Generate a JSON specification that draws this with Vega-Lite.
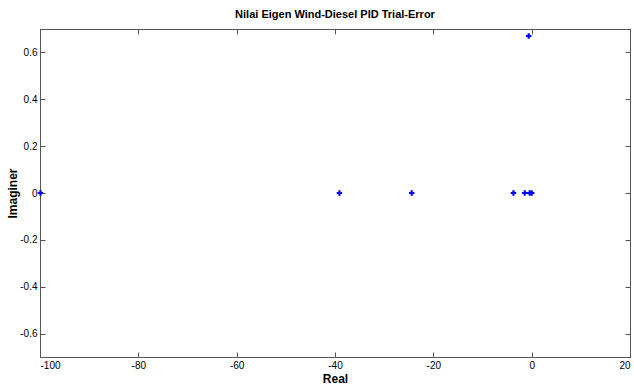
{
  "$schema": "https://vega.github.io/schema/vega-lite/v6.json",
  "width": 590,
  "height": 328,
  "autosize": {"type": "none"},
  "padding": {"left": 40, "top": 29, "right": 4, "bottom": 28},
  "background": "white",
  "title": {"text": "Nilai Eigen Wind-Diesel PID Trial-Error", "font": "Liberation Sans", "fontSize": 11, "fontWeight": "bold", "color": "#000", "offset": 9},
  "config": {
    "view": {"stroke": "#555", "strokeWidth": 1},
    "axis": {"grid": false, "domainColor": "#555", "tickColor": "#555", "labelFont": "Liberation Sans", "labelFontSize": 10, "labelColor": "#000", "titleFont": "Liberation Sans", "titleFontSize": 12, "titleFontWeight": "bold", "titleColor": "#000"}
  },
  "data": {"values": [
    {"re": -99.9, "im": 0},
    {"re": -39.1, "im": 0},
    {"re": -24.4, "im": 0},
    {"re": -3.7, "im": 0},
    {"re": -1.4, "im": 0},
    {"re": -0.4, "im": 0},
    {"re": 0.0, "im": 0},
    {"re": -0.6, "im": 0.67}
  ]},
  "layer": [
    {
      "mark": {"type": "point", "shape": "cross", "filled": true, "size": 30, "color": "#0000ff", "opacity": 1, "clip": false},
      "encoding": {
        "x": {"field": "re", "type": "quantitative", "scale": {"domain": [-100, 20], "nice": false, "zero": false},
          "axis": {"title": "Real", "values": [-100, -80, -60, -40, -20, 0, 20], "labelExpr": "'' + datum.value", "tickSize": -5, "labelPadding": 8, "titlePadding": 3, "domain": true}},
        "y": {"field": "im", "type": "quantitative", "scale": {"domain": [-0.7, 0.7], "nice": false, "zero": false},
          "axis": {"title": "Imaginer", "values": [-0.6, -0.4, -0.2, 0, 0.2, 0.4, 0.6], "labelExpr": "'' + round(datum.value * 10) / 10", "tickSize": -5, "labelPadding": 8, "titlePadding": 0}}
      }
    },
    {
      "mark": {"type": "point", "opacity": 0},
      "encoding": {
        "x": {"field": "re", "type": "quantitative", "scale": {"domain": [-100, 20], "nice": false, "zero": false},
          "axis": {"orient": "top", "title": null, "labels": false, "values": [-100, -80, -60, -40, -20, 0, 20], "tickSize": -5}},
        "y": {"field": "im", "type": "quantitative", "scale": {"domain": [-0.7, 0.7], "nice": false, "zero": false},
          "axis": {"orient": "right", "title": null, "labels": false, "values": [-0.6, -0.4, -0.2, 0, 0.2, 0.4, 0.6], "tickSize": -5}}
      }
    }
  ],
  "resolve": {"axis": {"x": "independent", "y": "independent"}}
}
